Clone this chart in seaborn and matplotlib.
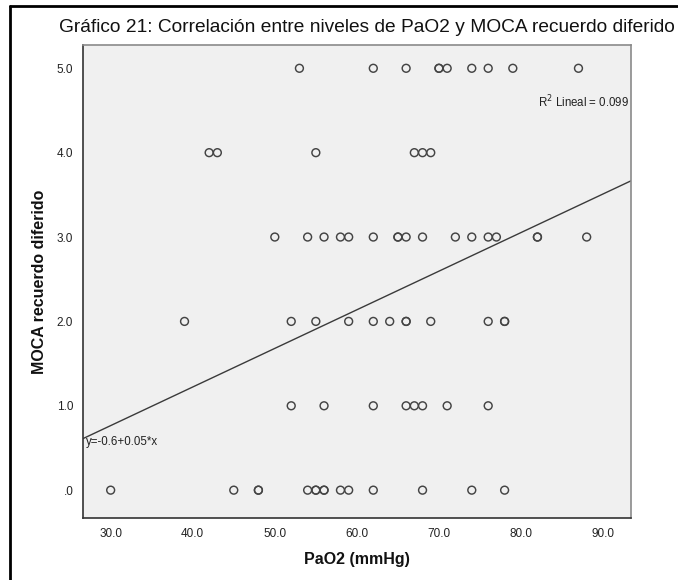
import numpy as np
import pandas as pd
import matplotlib
matplotlib.use("Agg")
import matplotlib.pyplot as plt
from matplotlib.lines import Line2D
import seaborn as sns

# Data (PaO2 in mmHg, grouped by MOCA score)
pao2_score0 = [30, 45, 48, 48, 54, 55, 55, 56, 56, 58, 59, 62, 68, 74, 78]
pao2_score1 = [52, 56, 62, 66, 67, 68, 71, 76]
pao2_score2 = [39, 52, 55, 59, 62, 64, 66, 66, 69, 76, 78, 78]
pao2_score3 = [50, 54, 56, 58, 59, 62, 65, 65, 66, 68, 72, 74, 76, 77, 82, 82, 88]
pao2_score4 = [42, 43, 55, 67, 68, 69]
pao2_score5 = [53, 62, 66, 70, 70, 71, 74, 76, 79, 87]
scores = [0, 1, 2, 3, 4, 5]

x_ticks = [30, 40, 50, 60, 70, 80, 90]
x_tick_labels = ["30.0", "40.0", "50.0", "60.0", "70.0", "80.0", "90.0"]
y_ticks = [0, 1, 2, 3, 4, 5]
y_tick_labels = [".0", "1.0", "2.0", "3.0", "4.0", "5.0"]

title = "Gráfico 21: Correlación entre niveles de PaO2 y MOCA recuerdo diferido"
x_label = "PaO2 (mmHg)"
y_label = "MOCA recuerdo diferido"
r2_text = "R$^2$ Lineal = 0.099"
eq_text = "y=-0.6+0.05*x"

groups = [pao2_score0, pao2_score1, pao2_score2, pao2_score3, pao2_score4, pao2_score5]
df = pd.DataFrame({
    "PaO2": [v for g in groups for v in g],
    "MOCA": [s for s, g in zip(scores, groups) for _ in g],
})

sns.set_style("white")
plt.rcParams["font.family"] = ["Liberation Sans", "DejaVu Sans"]

W, H = 678, 580
fig = plt.figure(figsize=(W / 100, H / 100), dpi=100)
fig.patch.set_facecolor("white")

ax_l, ax_r, ax_t, ax_b = 83, 631, 45, 518
ax = fig.add_axes([ax_l / W, 1 - ax_b / H, (ax_r - ax_l) / W, (ax_b - ax_t) / H])
ax.set_facecolor("#f0f0f0")

xlim = (26.63, 93.4)
ylim = (-0.33, 5.276)
ax.set_xlim(*xlim)
ax.set_ylim(*ylim)

sns.regplot(data=df, x="PaO2", y="MOCA", ax=ax, scatter=False, ci=None,
            truncate=False, line_kws=dict(color="#3a3a3a", lw=1.0))
sns.scatterplot(data=df, x="PaO2", y="MOCA", ax=ax, s=32, marker="o",
                facecolor="none", edgecolor="#444444", linewidth=1.05, zorder=3)

ax.set_xlim(*xlim)
ax.set_ylim(*ylim)
ax.set_xticks(x_ticks)
ax.set_xticklabels(x_tick_labels)
ax.set_yticks(y_ticks)
ax.set_yticklabels(y_tick_labels)
ax.tick_params(axis="both", direction="out", length=5, width=1.0, color="#333333",
               labelsize=8.5, labelcolor="#222222", pad=2)
ax.set_xlabel(x_label, fontsize=11.5, fontweight="bold", color="#111111", labelpad=9)
ax.set_ylabel(y_label, fontsize=11.5, fontweight="bold", color="#111111", labelpad=7)

for side in ["left", "bottom"]:
    ax.spines[side].set_color("#333333")
    ax.spines[side].set_linewidth(1.2)
for side in ["top", "right"]:
    ax.spines[side].set_color("#8a8a8a")
    ax.spines[side].set_linewidth(1.2)
    ax.spines[side].set_visible(True)

ax.text(0.997, 0.879, r2_text, transform=ax.transAxes, ha="right", va="center",
        fontsize=8.3, color="#222222")
ax.text(0.006, 0.161, eq_text, transform=ax.transAxes, ha="left", va="center",
        fontsize=8.3, color="#222222")

fig.text(59 / W, 1 - 27 / H, title, ha="left", va="center", fontsize=13.8,
         color="#111111")

# outer frame (left and top edges)
fig.add_artist(Line2D([10 / W, 10 / W], [0, 1 - 6 / H], transform=fig.transFigure,
                      color="black", lw=2))
fig.add_artist(Line2D([10 / W, 1], [1 - 6 / H, 1 - 6 / H], transform=fig.transFigure,
                      color="black", lw=2))

fig.savefig("out.png", dpi=100)
